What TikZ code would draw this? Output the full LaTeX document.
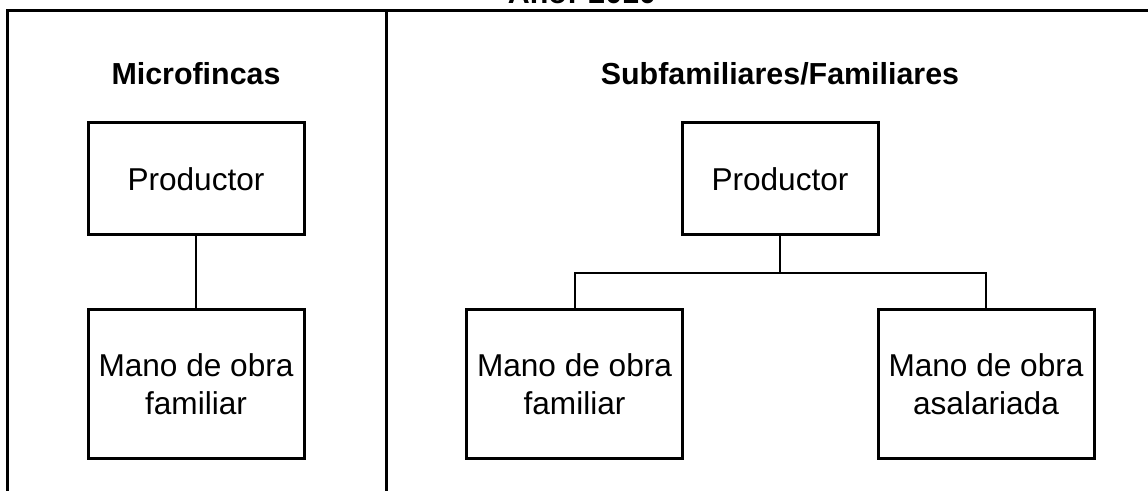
\documentclass[tikz,border=0pt]{standalone}
\usepackage{fontspec}
\setmainfont{Liberation Sans}

\begin{document}
\begin{tikzpicture}[x=0.5pt,y=-0.5pt,line width=1.5pt,
  box/.style={draw,rectangle,align=center,inner sep=0pt,minimum width=108pt,font=\fontsize{15.8}{19}\selectfont},
  head/.style={anchor=base,inner sep=0pt,font=\bfseries\fontsize{15.2}{18}\selectfont},
  link/.style={line width=1pt}]
\useasboundingbox (0,0) rectangle (1148,491);
% frame
\draw (7,500) -- (7,11) -- (1160,11);
\draw (386,11) -- (386,500);
\node[head] (anio) at (582,4) {Año: 2010};
\node[head] (micro) at (196,85) {Microfincas};
\node[head] (fam) at (780,85) {Subfamiliares/Familiares};
% left column
\node[box,minimum height=56pt] (p1) at (196,179) {Productor};
\node[box,minimum height=74.5pt] (m1) at (196,384.5) {Mano de obra\\familiar};
% right column
\node[box,minimum width=98pt,minimum height=56pt] (p2) at (780,179) {Productor};
\node[box,minimum height=74.5pt] (m2) at (574.5,384.5) {Mano de obra\\familiar};
\node[box,minimum height=74.5pt] (m3) at (986,384.5) {Mano de obra\\asalariada};
\coordinate (j) at (780,273);
\draw[link] (p1) -- (m1);
\draw[link] (p2) -- (j);
\draw[link] (m2.north) |- (j) -| (m3.north);
\end{tikzpicture}
\end{document}
